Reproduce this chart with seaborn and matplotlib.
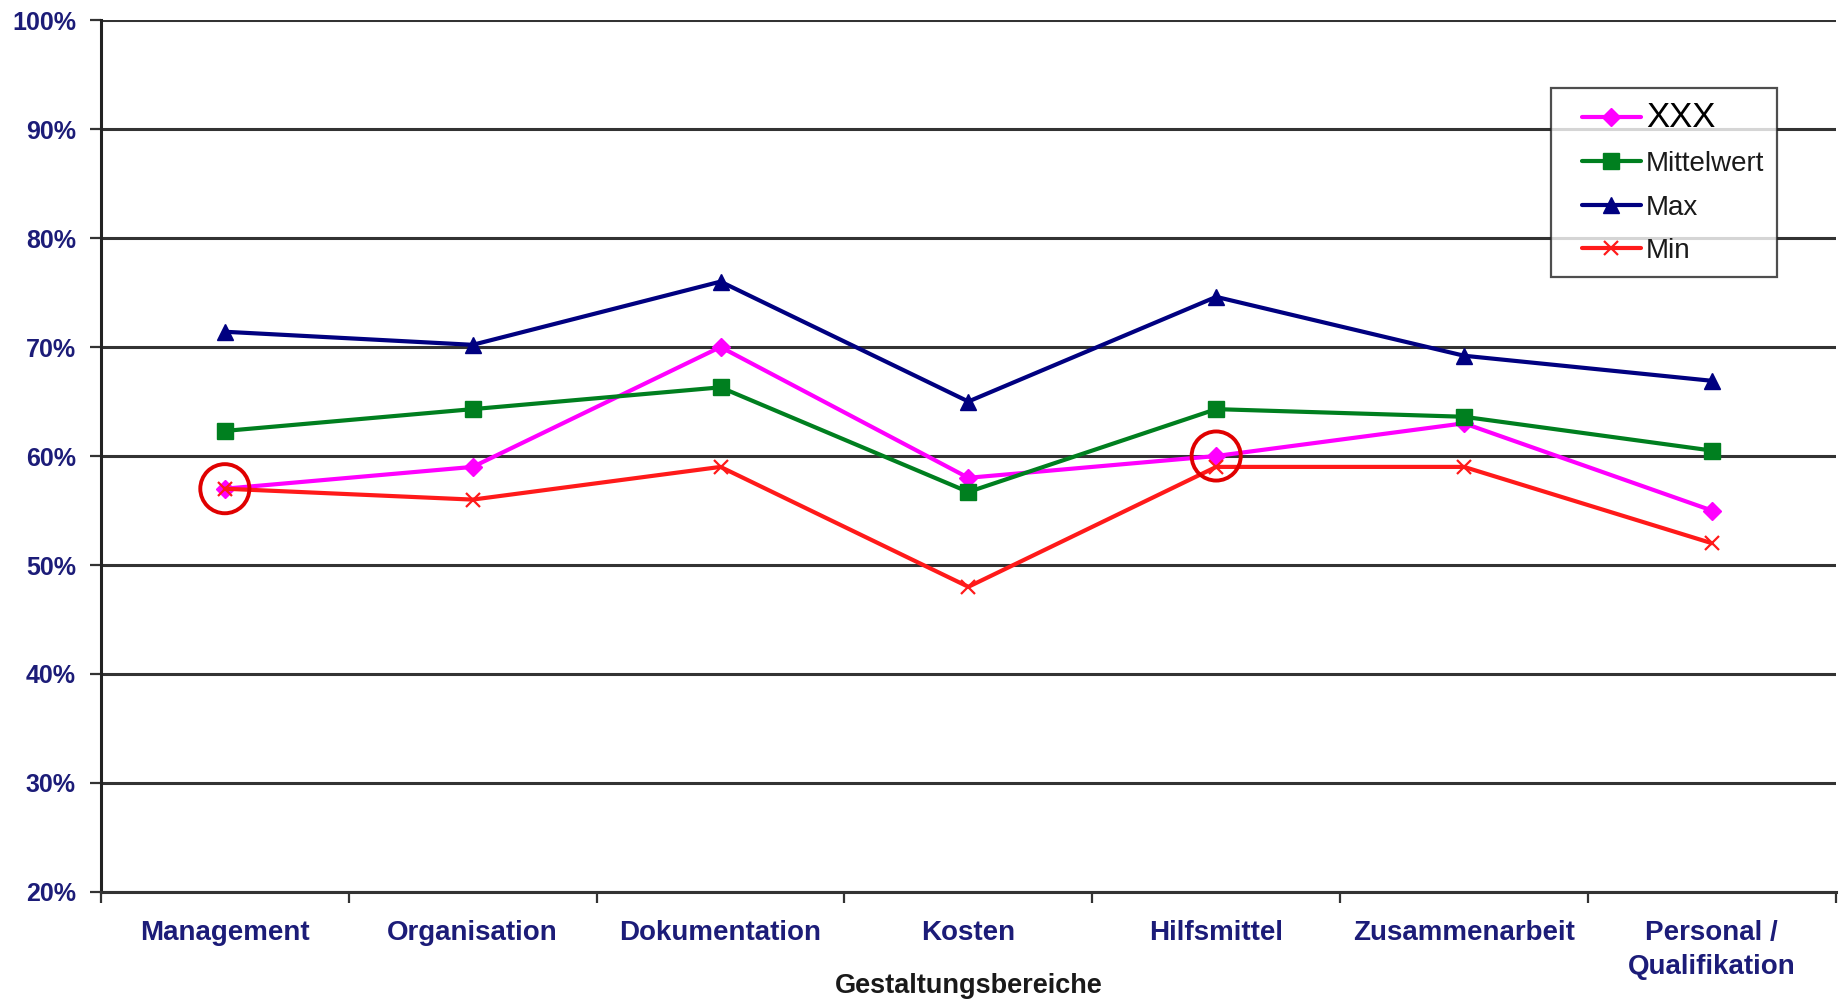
import matplotlib
matplotlib.use("Agg")
import matplotlib.pyplot as plt
import seaborn as sns
import numpy as np
import pandas as pd
from matplotlib.ticker import FixedLocator, PercentFormatter
from matplotlib.lines import Line2D
from matplotlib.legend_handler import HandlerLine2D

# Gestaltungsbereiche and the four series (in percent)
categories = ["Management", "Organisation", "Dokumentation", "Kosten",
              "Hilfsmittel", "Zusammenarbeit", "Personal /\nQualifikation"]
xxx = [57, 59, 70, 58, 60, 63, 55]
mittelwert = [62.3, 64.3, 66.3, 56.7, 64.3, 63.6, 60.5]
max_vals = [71.4, 70.2, 76.0, 65.0, 74.6, 69.2, 66.9]
min_vals = [57, 56, 59, 48, 59, 59, 52]

# points of XXX that get a red ring
highlight = ["Management", "Hilfsmittel"]

y_ticks = [20, 30, 40, 50, 60, 70, 80, 90, 100]

sns.set_theme(style="white")
plt.rcParams["font.family"] = ["Liberation Sans", "DejaVu Sans"]

series = [
    ("XXX", xxx, "#ff00ff", "D", 9),
    ("Mittelwert", mittelwert, "#007f1f", "s", 11),
    ("Max", max_vals, "#000080", "^", 12),
    ("Min", min_vals, "#ff1a1a", "x", 10),
]

pos = np.arange(len(categories))
frames = []
for name, vals, *_ in series:
    frames.append(pd.DataFrame({"pos": pos, "Kategorie": categories,
                                "Wert": vals, "Reihe": name}))
df = pd.concat(frames, ignore_index=True)

fig = plt.figure(figsize=(18.45, 10.01), dpi=100)
ax = fig.add_axes([0.0547, 0.1089, 0.9403, 0.8711])

for name, vals, color, marker, ms in series:
    sub = df[df["Reihe"] == name]
    sns.lineplot(data=sub, x="pos", y="Wert", ax=ax, color=color,
                 marker=marker, markersize=ms, linewidth=3.0,
                 markeredgecolor=color,
                 markeredgewidth=1.6 if marker == "x" else 1,
                 label=name, legend=False, zorder=3)

# red rings around selected XXX points
ring = df[(df["Reihe"] == "XXX") & (df["Kategorie"].isin(highlight))]
ax.scatter(ring["pos"], ring["Wert"], s=1250, facecolors="none",
           edgecolors="#e00000", linewidths=2.8, zorder=5)

ax.set_xlim(-0.5, len(categories) - 0.5)
ax.set_ylim(y_ticks[0], y_ticks[-1])
ax.yaxis.set_major_locator(FixedLocator(y_ticks))
ax.yaxis.set_major_formatter(PercentFormatter(decimals=0))

ax.grid(axis="y", color="#333333", linewidth=2.2)
ax.grid(axis="x", visible=False)
ax.set_axisbelow(True)

for side in ["top", "right"]:
    ax.spines[side].set_visible(False)
ax.spines["left"].set_color("#222222")
ax.spines["left"].set_linewidth(2.2)
ax.spines["bottom"].set_color("#333333")
ax.spines["bottom"].set_linewidth(2.2)

ax.set_xticks(pos)
ax.set_xticklabels(categories, linespacing=1.4)
ax.set_xticks(np.arange(len(categories) + 1) - 0.5, minor=True)
ax.tick_params(axis="x", which="major", length=0, pad=20,
               labelsize=20, labelcolor="#1c1c78")
ax.tick_params(axis="x", which="minor", bottom=True, length=8, width=1.6,
               color="#333333")
ax.tick_params(axis="y", which="major", left=True, length=8, width=1.6,
               color="#333333", pad=10, labelsize=18, labelcolor="#1c1c78")
for lab in ax.get_xticklabels() + ax.get_yticklabels():
    lab.set_fontweight("bold")

ax.set_ylabel("")
ax.set_xlabel("Gestaltungsbereiche", fontsize=19.5, fontweight="bold",
              color="#1a1a1a")
ax.xaxis.label.set_va("center")
ax.xaxis.set_label_coords(0.5, -0.1078)

leg = ax.legend(loc="upper left", bbox_to_anchor=(0.8407, 0.912),
                bbox_transform=fig.transFigure, fancybox=False, frameon=True,
                edgecolor="#222222", fontsize=20, handlelength=2.77,
                handletextpad=0.2, labelspacing=0.63, borderpad=0.45,
                borderaxespad=0, handler_map={Line2D: HandlerLine2D(xpad=0.65)})
leg.get_frame().set_linewidth(1.6)
for i, txt in enumerate(leg.get_texts()):
    txt.set_color("#1a1a1a")
    if i == 0:
        txt.set_fontsize(25)
        txt.set_color("black")

fig.savefig("out.png", dpi=100, facecolor="white")
